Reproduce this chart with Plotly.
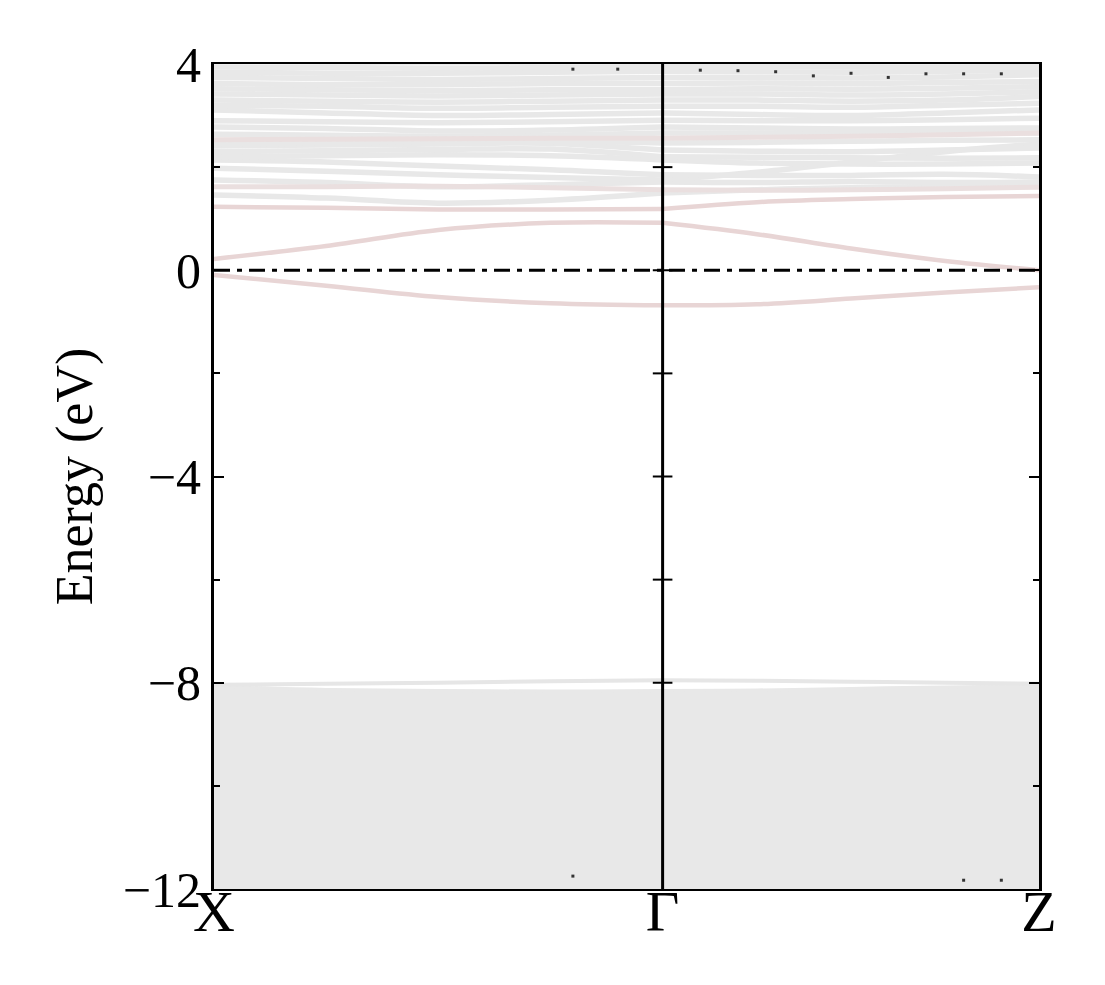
import plotly.graph_objects as go

# ---- k-path (high-symmetry points) ----
K_X, K_G, K_Z = 0.0, 1.0, 1.839
K_LABELS = ["X", "Γ", "Z"]
K_NODES = [0.0, 0.25, 0.5, 0.75, 1.0, 1.21, 1.42, 1.63, 1.839]

# ---- conduction bands (eV) at K_NODES ----
CB_GREY = [
    [1.46, 1.40, 1.30, 1.36, 1.50, 1.56, 1.60, 1.62, 1.64],
    [1.75, 1.70, 1.62, 1.66, 1.71, 1.70, 1.72, 1.70, 1.71],
    [1.98, 1.92, 1.85, 1.80, 1.75, 1.90, 2.10, 2.30, 2.45],
    [2.14, 2.10, 2.02, 1.95, 1.85, 1.84, 1.84, 1.86, 1.81],
    [2.20, 2.22, 2.24, 2.22, 2.14, 2.08, 2.06, 2.06, 2.08],
    [2.30, 2.32, 2.34, 2.35, 2.20, 2.19, 2.18, 2.17, 2.18],
    [2.41, 2.43, 2.45, 2.46, 2.33, 2.31, 2.30, 2.33, 2.37],
    [2.45, 2.47, 2.50, 2.50, 2.47, 2.48, 2.50, 2.52, 2.53],
    [2.64, 2.62, 2.60, 2.62, 2.66, 2.66, 2.66, 2.68, 2.66],
    [2.78, 2.75, 2.70, 2.72, 2.78, 2.76, 2.74, 2.75, 2.76],
    [2.90, 2.88, 2.86, 2.88, 2.91, 2.90, 2.90, 2.92, 2.95],
    [3.11, 3.05, 3.00, 3.02, 3.05, 3.02, 3.00, 3.05, 3.11],
    [3.20, 3.18, 3.14, 3.16, 3.18, 3.18, 3.16, 3.20, 3.24],
    [3.30, 3.28, 3.26, 3.28, 3.30, 3.30, 3.28, 3.30, 3.37],
    [3.42, 3.40, 3.38, 3.40, 3.42, 3.42, 3.40, 3.42, 3.46],
    [3.52, 3.50, 3.48, 3.50, 3.50, 3.52, 3.51, 3.53, 3.56],
    [3.62, 3.60, 3.60, 3.62, 3.62, 3.63, 3.62, 3.64, 3.66],
    [3.74, 3.72, 3.70, 3.72, 3.74, 3.74, 3.73, 3.75, 3.79],
    [3.84, 3.82, 3.82, 3.84, 3.86, 3.85, 3.84, 3.86, 3.88],
    [3.94, 3.93, 3.92, 3.93, 3.95, 3.95, 3.94, 3.94, 3.95],
    [4.05, 4.04, 4.03, 4.04, 4.05, 4.05, 4.04, 4.05, 4.06],
]
CB_PINK = [
    [0.22, 0.47, 0.78, 0.92, 0.92, 0.70, 0.42, 0.18, 0.00],
    [1.23, 1.21, 1.18, 1.18, 1.19, 1.32, 1.38, 1.42, 1.44],
]
CB_FAINT_PINK = [
    [1.62, 1.62, 1.63, 1.60, 1.56, 1.55, 1.56, 1.58, 1.61],
    [2.53, 2.54, 2.55, 2.56, 2.56, 2.58, 2.60, 2.63, 2.66],
]
# ---- valence bands (eV) at K_NODES ----
VB_PINK = [
    [-0.09, -0.30, -0.52, -0.64, -0.68, -0.66, -0.55, -0.43, -0.33],
]
VB_TOP = [-8.04, -8.02, -8.00, -7.97, -7.95, -7.96, -7.98, -8.00, -8.02]
VB_BLOCK_TOP = [-8.07, -8.13, -8.15, -8.16, -8.15, -8.14, -8.11, -8.08, -8.06]
VB_BLOCK_BOTTOM = [-12.2, -12.2, -12.2, -12.2, -12.2, -12.2, -12.2, -12.2, -12.2]

# ---- small marker artefacts near the window edges ----
MARK_K = [0.8, 0.9, 1.084, 1.168, 1.252, 1.336, 1.420, 1.503, 1.587, 1.671, 1.755]
MARK_E_TOP = [3.90, 3.90, 3.88, 3.87, 3.85, 3.77, 3.82, 3.74, 3.81, 3.81, 3.81]
MARK_K_BOT = [0.8, 1.671, 1.755]
MARK_E_BOT = [-11.75, -11.83, -11.83]

FERMI = 0.0
Y_RANGE = [-12, 4]

GREY = "#e8e8e8"
PINK = "#e8d5d5"
FAINT_PINK = "#eadfdf"
FONT = "Liberation Serif"


def split_path(vals):
    """Break a band at Γ so each segment is smoothed on its own."""
    xs = K_NODES[:5] + [None] + K_NODES[4:]
    ys = vals[:5] + [None] + vals[4:]
    return xs, ys


fig = go.Figure()

# valence block (dense bands drawn as a filled region)
fig.add_trace(go.Scatter(x=K_NODES, y=VB_BLOCK_BOTTOM, mode="lines",
                         line=dict(color=GREY, width=0), hoverinfo="skip",
                         showlegend=False))
fig.add_trace(go.Scatter(x=K_NODES, y=VB_BLOCK_TOP, mode="lines",
                         line=dict(color=GREY, width=3, shape="spline"),
                         fill="tonexty", fillcolor=GREY, hoverinfo="skip",
                         showlegend=False))
xs, ys = split_path(VB_TOP)
fig.add_trace(go.Scatter(x=xs, y=ys, mode="lines",
                         line=dict(color="#e6e6e6", width=4, shape="spline"),
                         showlegend=False))

for band in CB_GREY:
    xs, ys = split_path(band)
    fig.add_trace(go.Scatter(x=xs, y=ys, mode="lines",
                             line=dict(color=GREY, width=5.5, shape="spline"),
                             showlegend=False))
for band in CB_FAINT_PINK:
    xs, ys = split_path(band)
    fig.add_trace(go.Scatter(x=xs, y=ys, mode="lines",
                             line=dict(color=FAINT_PINK, width=5, shape="spline"),
                             showlegend=False))
for band in CB_PINK + VB_PINK:
    xs, ys = split_path(band)
    fig.add_trace(go.Scatter(x=xs, y=ys, mode="lines",
                             line=dict(color=PINK, width=4.5, shape="spline"),
                             showlegend=False))

# Fermi level
fig.add_trace(go.Scatter(x=[K_X, K_Z], y=[FERMI, FERMI], mode="lines",
                         line=dict(color="black", width=3,
                                   dash="16px,7px,5px,7px"),
                         showlegend=False))

# small markers
fig.add_trace(go.Scatter(x=MARK_K, y=MARK_E_TOP, mode="markers",
                         marker=dict(color="#333", size=3, symbol="square"),
                         showlegend=False))
fig.add_trace(go.Scatter(x=MARK_K_BOT, y=MARK_E_BOT, mode="markers",
                         marker=dict(color="#333", size=3, symbol="square"),
                         showlegend=False))

# tick crosses on the Γ line
GAMMA_TICKS = [2, 0, -2, -4, -6, -8]
fig.add_trace(go.Scatter(x=[K_G] * len(GAMMA_TICKS), y=GAMMA_TICKS,
                         mode="markers",
                         marker=dict(symbol="line-ew", size=14,
                                     line=dict(color="black", width=2)),
                         showlegend=False))

fig.add_shape(type="line", xref="x", yref="paper", x0=K_G, x1=K_G, y0=0, y1=1,
              line=dict(color="black", width=3))

fig.update_layout(
    width=1105, height=985,
    margin=dict(l=206, r=74, t=56, b=104),
    plot_bgcolor="white", paper_bgcolor="white",
    font=dict(family=FONT, size=50, color="black"),
    showlegend=False,
)
fig.update_xaxes(
    range=[K_X, K_Z], tickmode="array", tickvals=[K_X, K_G, K_Z],
    ticktext=K_LABELS, ticks="", showgrid=False, zeroline=False,
    showline=True, linecolor="black", linewidth=2, mirror=True,
    tickfont=dict(family=FONT, size=58), ticklabelstandoff=-30,
)
fig.update_yaxes(
    range=Y_RANGE, tickmode="linear", tick0=0, dtick=4,
    ticks="inside", ticklen=10, tickwidth=2, tickcolor="black",
    minor=dict(dtick=2, ticks="inside", ticklen=6, tickwidth=1.5,
               tickcolor="black"),
    showgrid=False, zeroline=False, showline=True, linecolor="black",
    linewidth=3, mirror="ticks",
    tickfont=dict(family=FONT, size=50),
    title=dict(text="Energy (eV)", standoff=14,
               font=dict(family=FONT, size=52)),
)

fig.write_html("out.html")
